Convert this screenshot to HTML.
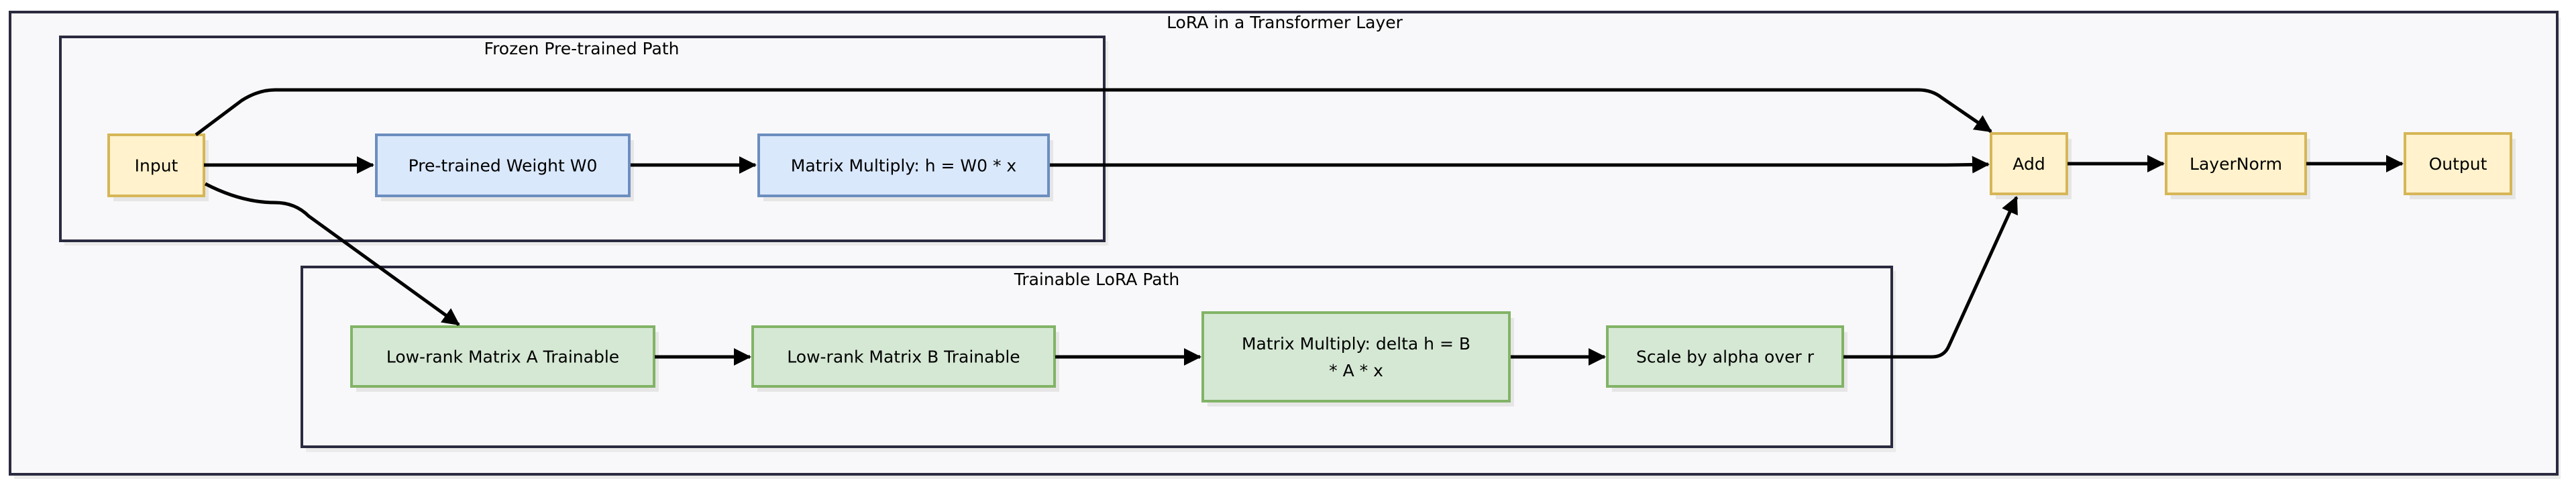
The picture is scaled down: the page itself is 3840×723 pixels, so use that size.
<!DOCTYPE html>
<html><head><meta charset="utf-8"><style>
html,body{margin:0;padding:0;background:#fff;}
svg{display:block;}
text{font-family:"DejaVu Sans","Liberation Sans",sans-serif;font-size:25px;fill:#000;}
</style></head><body>
<svg width="3840" height="723" viewBox="0 0 3840 723" xmlns="http://www.w3.org/2000/svg">
<defs>
<marker id="ah" markerWidth="26" markerHeight="26" refX="24" refY="13" orient="auto" markerUnits="userSpaceOnUse" viewBox="0 0 26 26"><path d="M0,0 L26,13 L0,26 z" fill="#000"/></marker>
</defs>
<g>
<rect x="21" y="26" width="3796" height="688" fill="#ebebeb"/>
<rect x="15" y="18" width="3797" height="689" fill="#f8f8fa" stroke="#2a2a40" stroke-width="4"/>
<text x="1915" y="42" text-anchor="middle">LoRA in a Transformer Layer</text>
</g>
<g>
<rect x="96" y="61" width="1556" height="305" fill="#ebebeb"/>
<rect x="90" y="55" width="1556" height="304" fill="#f8f8fa" stroke="#2a2a40" stroke-width="4"/>
<text x="867" y="81" text-anchor="middle">Frozen Pre-trained Path</text>
</g>
<g>
<rect x="456" y="404" width="2370" height="270" fill="#ebebeb"/>
<rect x="450" y="398" width="2370" height="268" fill="#f8f8fa" stroke="#2a2a40" stroke-width="4"/>
<text x="1635" y="425" text-anchor="middle">Trainable LoRA Path</text>
</g>
<g id="nodes"></g>
<g fill="none" stroke="#000" stroke-width="5">
<path d="M304,246 L556,246" marker-end="url(#ah)"/>
<path d="M940,246 L1126,246" marker-end="url(#ah)"/>
<path d="M1565,246 L2880,246 Q2920,246 2964,245" marker-end="url(#ah)"/>
<path d="M292,201 L360,150 Q385,134 410,134 L2860,134 Q2880,134 2895,146 L2968,196" marker-end="url(#ah)"/>
<path d="M306,274 Q360,302 410,302 Q440,302 460,322 L684,484" marker-end="url(#ah)"/>
<path d="M976,532 L1118,532" marker-end="url(#ah)"/>
<path d="M1573,532 L1789,532" marker-end="url(#ah)"/>
<path d="M2252,532 L2392,532" marker-end="url(#ah)"/>
<path d="M2748,532 L2880,532 Q2898,532 2905,516 L3006,294" marker-end="url(#ah)"/>
<path d="M3082,244 L3225,244" marker-end="url(#ah)"/>
<path d="M3438,244 L3581,244" marker-end="url(#ah)"/>
</g>
</svg>
<script>
const nodes=[
 ["input-node",162,201,142,91,"y",["Input"]],
 ["pretrained-weight-node",561,201,377,91,"b",["Pre-trained Weight W0"]],
 ["matmul-node",1131,201,432,91,"b",["Matrix Multiply: h = W0 * x"]],
 ["lowrank-a-node",524,487,451,89,"g",["Low-rank Matrix A Trainable"]],
 ["lowrank-b-node",1122,487,450,89,"g",["Low-rank Matrix B Trainable"]],
 ["delta-matmul-node",1793,466,457,132,"g",["Matrix Multiply: delta h = B","* A * x"]],
 ["scale-node",2396,487,351,89,"g",["Scale by alpha over r"]],
 ["add-node",2968,199,113,90,"y",["Add"]],
 ["layernorm-node",3229,199,208,90,"y",["LayerNorm"]],
 ["output-node",3585,199,158,90,"y",["Output"]]
];
const col={y:["#fff2cc","#d6b656"],b:["#dae8fc","#6c8ebf"],g:["#d5e8d4","#82b366"]};
const NS="http://www.w3.org/2000/svg";
const g=document.getElementById("nodes");
for(const [name,x,y,w,h,c,lines] of nodes){
 const grp=document.createElementNS(NS,"g");
 
 
 const sh=document.createElementNS(NS,"rect");
 sh.setAttribute("x",x+7);sh.setAttribute("y",y+8);sh.setAttribute("width",w);sh.setAttribute("height",h);sh.setAttribute("fill","#e6e6e6");
 grp.appendChild(sh);
 const r=document.createElementNS(NS,"rect");
 r.setAttribute("x",x);r.setAttribute("y",y);r.setAttribute("width",w);r.setAttribute("height",h);
 r.setAttribute("fill",col[c][0]);r.setAttribute("stroke",col[c][1]);r.setAttribute("stroke-width","4");
 grp.appendChild(r);
 const lh=40, cy=y+h/2-(lines.length-1)*lh/2;
 lines.forEach((t,i)=>{
  const tx=document.createElementNS(NS,"text");
  tx.setAttribute("x",x+w/2);tx.setAttribute("y",cy+i*lh+9);tx.setAttribute("text-anchor","middle");
  tx.textContent=t;grp.appendChild(tx);
 });
 g.appendChild(grp);
}
</script>
</body></html>
